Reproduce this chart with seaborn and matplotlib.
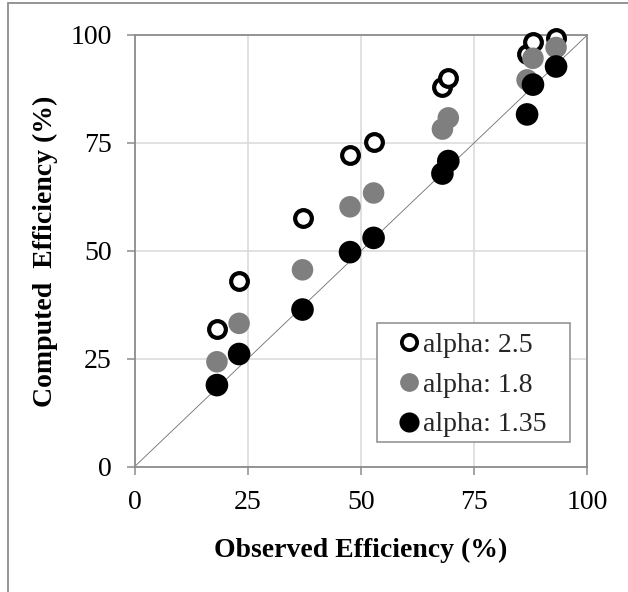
import matplotlib
matplotlib.use("Agg")
import matplotlib.pyplot as plt
import seaborn as sns
import pandas as pd
from matplotlib.lines import Line2D
from matplotlib.patches import Rectangle

# ---- data ----
observed = [18.2, 23.1, 37.1, 47.6, 52.8, 68.0, 69.3, 86.7, 88.0, 93.1]
computed_a25 = [32.0, 42.9, 57.6, 72.1, 75.3, 88.0, 90.0, 95.6, 98.3, 99.4]
computed_a18 = [24.3, 33.2, 45.6, 60.2, 63.4, 78.2, 80.8, 89.6, 94.6, 97.1]
computed_a135 = [18.9, 26.1, 36.4, 49.7, 53.0, 67.9, 70.8, 81.6, 88.5, 92.7]
series_labels = ["alpha: 2.5", "alpha: 1.8", "alpha: 1.35"]
tick_values = [0, 25, 50, 75, 100]

df = pd.DataFrame({
    "observed": observed * 3,
    "computed": computed_a25 + computed_a18 + computed_a135,
    "series": [series_labels[0]] * 10 + [series_labels[1]] * 10 + [series_labels[2]] * 10,
})

sns.set_theme(style="white")
plt.rcParams["font.family"] = ["Liberation Serif", "DejaVu Serif"]

fig = plt.figure(figsize=(6.28, 5.92), dpi=100)
ax = fig.add_axes([0.2142, 0.2117, 0.9352 - 0.2142, 0.9409 - 0.2117])

spine_c = "#8c8c8c"
grid_c = "#d9d9d9"

# diagonal 1:1 line
ax.plot([0, 100], [0, 100], color="#6e6e6e", lw=0.6, zorder=2)

# series
d = df[df.series == series_labels[0]]
sns.scatterplot(data=d, x="observed", y="computed", ax=ax, s=145,
                facecolor="white", edgecolor="black", linewidth=3.0,
                marker="o", zorder=3, legend=False, clip_on=False)
d = df[df.series == series_labels[1]]
sns.scatterplot(data=d, x="observed", y="computed", ax=ax, s=240,
                color="#7f7f7f", edgecolor="none", linewidth=0,
                marker="o", zorder=4, legend=False, clip_on=False)
d = df[df.series == series_labels[2]]
sns.scatterplot(data=d, x="observed", y="computed", ax=ax, s=265,
                color="black", edgecolor="none", linewidth=0,
                marker="o", zorder=5, legend=False, clip_on=False)

ax.set_xlim(0, 100)
ax.set_ylim(0, 100)
ax.set_xticks(tick_values)
ax.set_yticks(tick_values)
ax.set_xticklabels([str(v) for v in tick_values])
ax.set_yticklabels([str(v) for v in tick_values])
ax.grid(True, color=grid_c, lw=1.1, zorder=0)
ax.set_axisbelow(True)
for s in ax.spines.values():
    s.set_color(spine_c)
    s.set_linewidth(1.3)
    s.set_visible(True)
ax.tick_params(axis="both", which="major", direction="out", length=5.5,
               width=1.1, color=spine_c, labelsize=20, labelcolor="black",
               bottom=True, left=True)
ax.tick_params(axis="y", pad=11)
ax.tick_params(axis="x", pad=11)

ax.set_xlabel("Observed Efficiency (%)", fontsize=20, fontweight="bold",
              color="black", labelpad=17)
ax.set_ylabel("Computed  Efficiency (%)", fontsize=20, fontweight="bold",
              color="black", labelpad=9)

# legend box (frame drawn separately to match reference padding)
ax.add_patch(Rectangle((0.5355, 0.0572), 0.9618 - 0.5355, 0.3329 - 0.0572,
                       transform=ax.transAxes, facecolor="white",
                       edgecolor=spine_c, lw=1.1, zorder=6, clip_on=False))
handles = [
    Line2D([], [], ls="none", marker="o", markersize=11, markerfacecolor="white",
           markeredgecolor="black", markeredgewidth=2.7),
    Line2D([], [], ls="none", marker="o", markersize=13.5, markerfacecolor="#7f7f7f",
           markeredgecolor="none"),
    Line2D([], [], ls="none", marker="o", markersize=14.5, markerfacecolor="black",
           markeredgecolor="none"),
]
leg = ax.legend(handles, series_labels, loc="center left",
                bbox_to_anchor=(0.575, 0.1894), fontsize=20, frameon=False,
                handlelength=1.0, handletextpad=0.0, labelspacing=0.51,
                borderpad=0.0, borderaxespad=0)
leg.set_zorder(7)

# outer figure frame (partially cropped at right/bottom like the reference)
fig.patches.append(Rectangle((8 / 628, -0.05), 1.2, 1 - 3 / 592 + 0.05,
                             transform=fig.transFigure, fill=False,
                             edgecolor=spine_c, lw=1.3))

fig.savefig("out.png", dpi=100)
